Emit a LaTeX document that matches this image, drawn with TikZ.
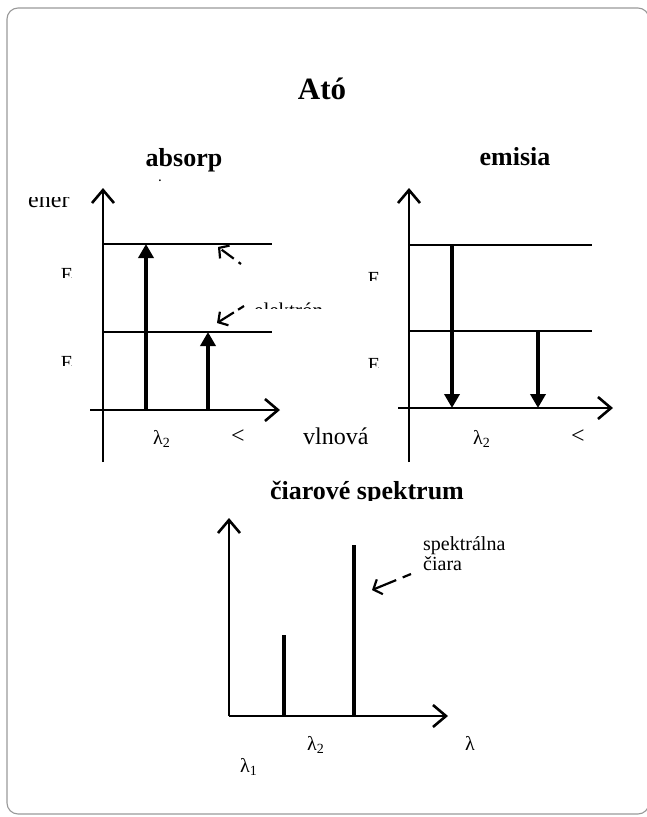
\documentclass[tikz,border=0pt]{standalone}
\usepackage{fontspec}
\setmainfont{Liberation Serif}
\usetikzlibrary{arrows.meta}
\begin{document}
\begin{tikzpicture}[x=1pt,y=-1pt,
  axis/.style={line width=2.6pt, -{Straight Barb[length=13pt,width=22pt,line width=2.6pt]}},
  level/.style={line width=1.8pt},
  trans/.style={line width=3.6pt, -{Triangle[length=14pt,width=15pt]}},
  sline/.style={line width=3.6pt},
  pointer/.style={line width=2.2pt, -{Straight Barb[length=7pt,width=16pt,line width=2.2pt]}},
  headtxt/.style={font=\bfseries\fontsize{26}{26}\selectfont, inner sep=0pt},
  lbl/.style={font=\fontsize{20}{20}\selectfont, inner sep=0pt},
  lam/.style={font=\fontsize{20}{20}\selectfont, inner sep=0pt, anchor=base west},
  ltsign/.style={font=\fontsize{24}{24}\selectfont, inner sep=0pt},
]
\useasboundingbox (0,0) rectangle (646,817);
% frame
\draw[black!40, line width=1.1pt, rounded corners=11pt] (7,8) rectangle (649,814);

% headings
\node[font=\bfseries\fontsize{31}{31}\selectfont, inner sep=0pt, anchor=base] (title) at (322,99) {Ató};
\node[headtxt, anchor=base] (absorp) at (184,166) {absorp};
\node[font=\bfseries\fontsize{11}{11}\selectfont, inner sep=0pt, text height=2pt, text depth=0pt, anchor=base] (dot) at (160,181) {.};
\node[headtxt, anchor=base] (emisia) at (515,165) {emisia};
\begin{scope}
  \clip (200,470) rectangle (500,500.5);
  \node[headtxt, anchor=base] (ciar) at (367,499) {čiarové spektrum};
\end{scope}

% ---------- absorption diagram ----------
\coordinate (a0) at (103,462);
\coordinate (aT) at (103,188);
\coordinate (aL) at (90,410);
\coordinate (aR) at (280,410);
\coordinate (aU1) at (103,244);
\coordinate (aU2) at (272,244);
\coordinate (aD1) at (103,332);
\coordinate (aD2) at (272,332);
\coordinate (t1s) at (146,410);
\coordinate (t1e) at (146,244);
\coordinate (t2s) at (208,410);
\coordinate (t2e) at (208,332);
\draw[axis] (a0) -- (aT);
\draw[axis] (aL) -- (aR);
\draw[level] (aU1) -- (aU2);
\draw[level] (aD1) -- (aD2);
\draw[trans] (t1s) -- (t1e);
\draw[trans] (t2s) -- (t2e);

\begin{scope}
  \clip (20,197) rectangle (90,215);
  \node[font=\fontsize{24}{24}\selectfont, inner sep=0pt, anchor=base west] (ener) at (28,207) {ener};
\end{scope}
\begin{scope}
  \clip (50,260) rectangle (90,277);
  \node[lbl, anchor=base] (aE1) at (67,281) {E};
\end{scope}
\begin{scope}
  \clip (50,345) rectangle (90,365);
  \node[lbl, anchor=base] (aE2) at (67,369) {E};
\end{scope}
\begin{scope}
  \clip (240,295) rectangle (340,308);
  \node[font=\fontsize{21}{21}\selectfont, inner sep=0pt, anchor=base west] (elek) at (254,317) {elektrón};
\end{scope}
\coordinate (p1s) at (241,264);
\coordinate (p1e) at (218,247);
\draw[pointer, dash pattern=on 3pt off 6pt on 12pt off 0pt] (p1s) -- (p1e);
\coordinate (p2s) at (244,306);
\coordinate (p2e) at (217,323);
\draw[pointer, dash pattern=on 7pt off 5pt on 20pt off 0pt] (p2s) -- (p2e);

\node[lam] (al2) at (153,444) {λ\textsubscript{2}};
\node[ltsign] (alt1) at (238,437) {<};
\node[font=\fontsize{24}{24}\selectfont, inner sep=0pt, anchor=base west] (vln) at (303,444) {vlnová};

% ---------- emission diagram ----------
\coordinate (e0) at (409,462);
\coordinate (eT) at (409,188);
\coordinate (eL) at (398,408);
\coordinate (eR) at (613,408);
\coordinate (eU1) at (409,245);
\coordinate (eU2) at (592,245);
\coordinate (eD1) at (409,331);
\coordinate (eD2) at (592,331);
\coordinate (s1s) at (452,245);
\coordinate (s1e) at (452,408);
\coordinate (s2s) at (538,331);
\coordinate (s2e) at (538,408);
\draw[axis] (e0) -- (eT);
\draw[axis] (eL) -- (eR);
\draw[level] (eU1) -- (eU2);
\draw[level] (eD1) -- (eD2);
\draw[trans] (s1s) -- (s1e);
\draw[trans] (s2s) -- (s2e);
\begin{scope}
  \clip (355,265) rectangle (395,280);
  \node[lbl, anchor=base] (eE1) at (374,285) {E};
\end{scope}
\begin{scope}
  \clip (355,350) rectangle (395,367);
  \node[lbl, anchor=base] (eE2) at (374,371) {E};
\end{scope}
\node[lam] (el2) at (473,444) {λ\textsubscript{2}};
\node[ltsign] (elt1) at (578,437) {<};

% ---------- line spectrum ----------
\coordinate (s0) at (229,716);
\coordinate (sT) at (229,518);
\coordinate (sR) at (448,716);
\coordinate (l1b) at (284,716);
\coordinate (l1t) at (284,635);
\coordinate (l2b) at (354,716);
\coordinate (l2t) at (354,545);
\draw[axis] (s0) -- (sT);
\draw[axis] (s0) -- (sR);
\draw[sline] (l1b) -- (l1t);
\draw[sline] (l2b) -- (l2t);
\node[lbl, anchor=base west, align=left] (sc) at (423,570) {spektrálna\\čiara};
\coordinate (p3s) at (411,574);
\coordinate (p3e) at (372,590);
\draw[pointer, dash pattern=on 9pt off 7pt on 30pt off 0pt] (p3s) -- (p3e);
\node[lam] (sl2) at (307,750) {λ\textsubscript{2}};
\node[lam] (sl) at (465,750) {λ};
\node[lam] (sl1) at (240,772) {λ\textsubscript{1}};
\end{tikzpicture}
\end{document}
